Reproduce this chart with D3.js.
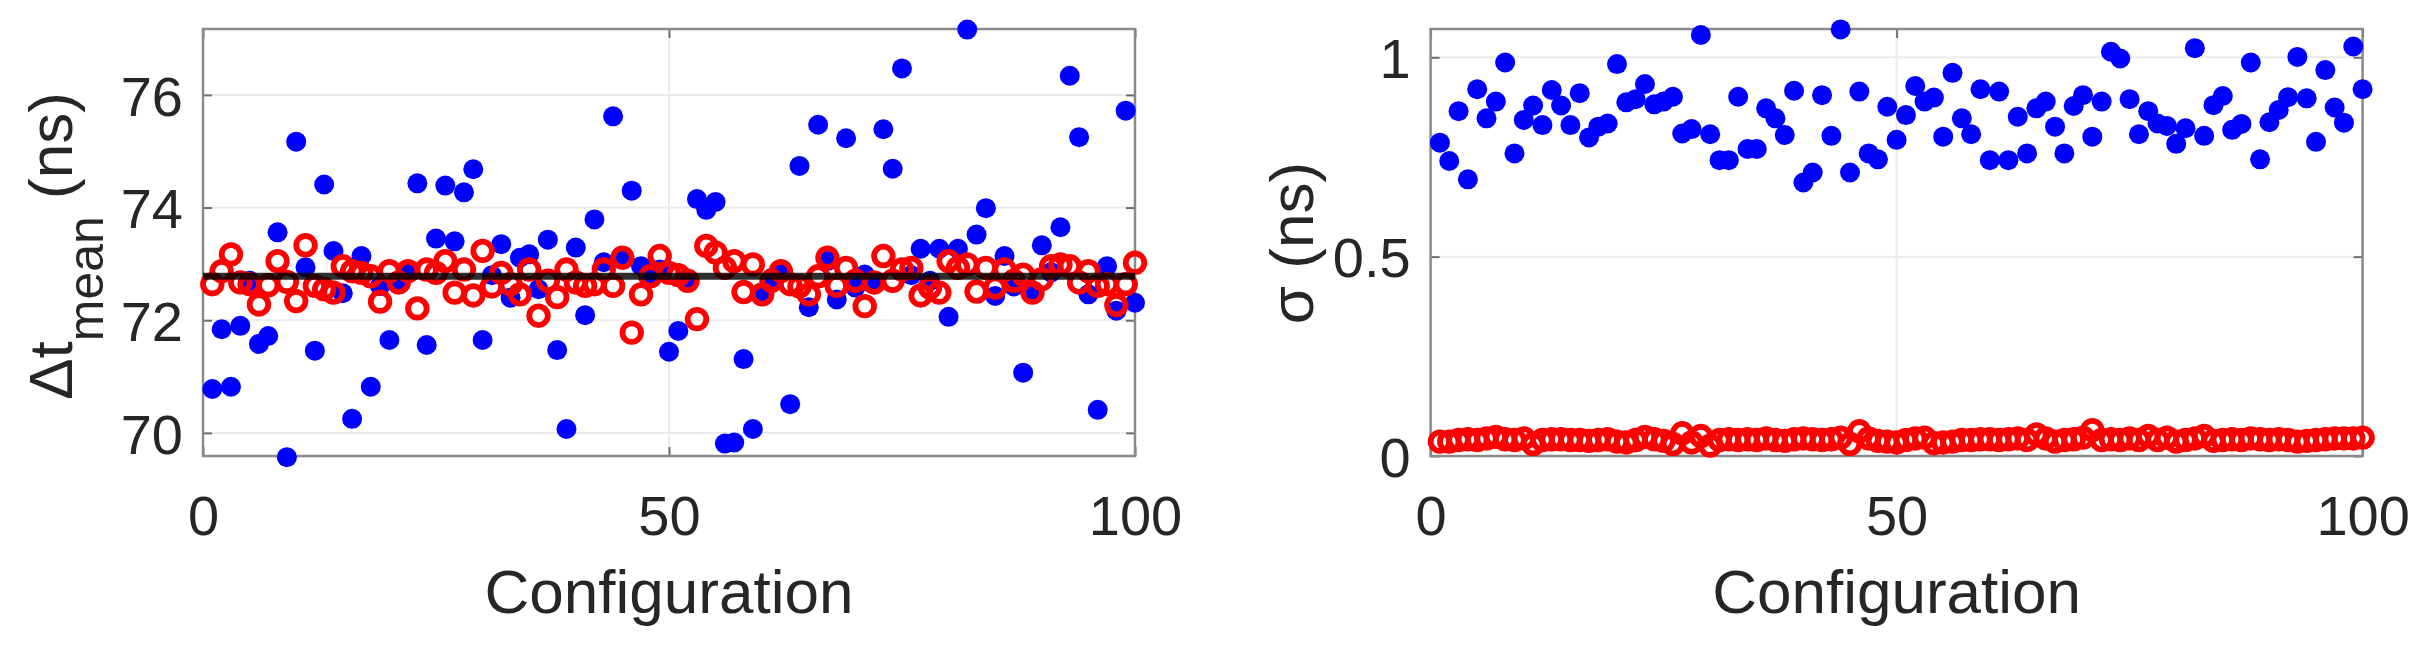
<!DOCTYPE html>
<html>
<head>
<meta charset="utf-8">
<script src="https://cdnjs.cloudflare.com/ajax/libs/d3/7.8.5/d3.min.js"></script>
<style>
  body { margin: 0; background: #fff; }
  text { font-family: "Liberation Sans", Arial, Helvetica, sans-serif; fill: #262626; }
</style>
</head>
<body>
<div id="chart"></div>
<script>
// configurations 1..100
var configs = d3.range(1, 101);

// left panel: mean time difference per configuration (ns)
var meanBlue = [70.78, 71.84, 70.82, 71.90, 72.70, 71.58, 71.72, 73.56, 69.57, 75.17,
    72.94, 71.46, 74.41, 73.23, 72.48, 70.25, 73.14, 70.82, 72.61, 71.65,
    72.67, 72.85, 74.43, 71.56, 73.45, 74.39, 73.40, 74.27, 74.68, 71.65,
    72.80, 73.35, 72.40, 73.11, 73.17, 72.55, 73.43, 71.47, 70.07, 73.29,
    72.09, 73.79, 73.03, 75.62, 73.11, 74.30, 72.96, 72.79, 72.90, 71.44,
    71.81, 72.70, 74.15, 73.96, 74.10, 69.81, 69.83, 71.31, 70.07, 72.46,
    72.75, 72.85, 70.51, 74.74, 72.23, 75.47, 73.05, 72.37, 75.23, 72.58,
    72.81, 72.64, 75.39, 74.69, 76.47, 72.80, 73.27, 72.70, 73.27, 72.06,
    73.27, 77.16, 73.52, 73.99, 72.43, 73.14, 72.60, 71.07, 72.49, 73.33,
    72.85, 73.65, 76.34, 75.25, 72.46, 70.41, 72.96, 72.17, 75.72, 72.31]
var meanRed = [72.64, 72.87, 73.17, 72.67, 72.64, 72.28, 72.62, 73.05, 72.68, 72.34,
    73.33, 72.61, 72.55, 72.49, 72.96, 72.87, 72.84, 72.78, 72.33, 72.87,
    72.67, 72.87, 72.21, 72.90, 72.84, 73.05, 72.49, 72.90, 72.44, 73.23,
    72.60, 72.84, 72.64, 72.46, 72.90, 72.08, 72.70, 72.41, 72.90, 72.67,
    72.61, 72.64, 72.90, 72.61, 73.11, 71.78, 72.46, 72.78, 73.14, 72.84,
    72.80, 72.70, 72.02, 73.32, 73.20, 72.93, 73.05, 72.50, 72.99, 72.46,
    72.70, 72.87, 72.64, 72.60, 72.46, 72.78, 73.11, 72.61, 72.93, 72.70,
    72.25, 72.67, 73.14, 72.70, 72.90, 72.93, 72.44, 72.58, 72.49, 73.05,
    72.93, 72.99, 72.51, 72.93, 72.58, 72.90, 72.70, 72.81, 72.49, 72.73,
    72.96, 72.99, 72.96, 72.67, 72.87, 72.61, 72.64, 72.27, 72.64, 73.02]
var meanLine = 72.78;

// right panel: standard deviation per configuration (ns)
var sigmaBlue = [0.786, 0.740, 0.865, 0.694, 0.920, 0.847, 0.889, 0.987, 0.759, 0.843,
    0.879, 0.830, 0.918, 0.879, 0.830, 0.910, 0.799, 0.826, 0.834, 0.983,
    0.887, 0.895, 0.933, 0.882, 0.889, 0.901, 0.809, 0.820, 1.056, 0.807,
    0.742, 0.742, 0.901, 0.770, 0.770, 0.872, 0.847, 0.805, 0.916, 0.686,
    0.711, 0.905, 0.803, 1.070, 0.711, 0.914, 0.759, 0.744, 0.876, 0.793,
    0.855, 0.928, 0.889, 0.899, 0.801, 0.961, 0.847, 0.807, 0.920, 0.742,
    0.914, 0.742, 0.851, 0.759, 0.872, 0.889, 0.826, 0.759, 0.878, 0.905,
    0.801, 0.889, 1.014, 0.997, 0.895, 0.807, 0.865, 0.834, 0.828, 0.783,
    0.822, 1.023, 0.803, 0.880, 0.903, 0.818, 0.833, 0.987, 0.744, 0.837,
    0.868, 0.900, 1.001, 0.897, 0.788, 0.968, 0.874, 0.836, 1.027, 0.920]
var sigmaRed = [0.036, 0.036, 0.040, 0.042, 0.040, 0.044, 0.048, 0.042, 0.040, 0.044,
    0.030, 0.040, 0.042, 0.042, 0.040, 0.040, 0.038, 0.040, 0.042, 0.036,
    0.034, 0.040, 0.048, 0.042, 0.038, 0.030, 0.057, 0.034, 0.050, 0.026,
    0.040, 0.042, 0.040, 0.042, 0.040, 0.044, 0.040, 0.038, 0.042, 0.044,
    0.042, 0.040, 0.042, 0.046, 0.030, 0.062, 0.044, 0.038, 0.036, 0.034,
    0.040, 0.044, 0.046, 0.032, 0.034, 0.036, 0.040, 0.040, 0.042, 0.042,
    0.040, 0.042, 0.044, 0.040, 0.054, 0.044, 0.036, 0.040, 0.042, 0.046,
    0.065, 0.040, 0.042, 0.040, 0.044, 0.040, 0.050, 0.040, 0.046, 0.036,
    0.040, 0.044, 0.050, 0.038, 0.040, 0.042, 0.040, 0.044, 0.042, 0.040,
    0.042, 0.040, 0.036, 0.038, 0.040, 0.042, 0.044, 0.044, 0.044, 0.046]

// tick values
var xTicks = [0, 50, 100];
var meanTicks = [70, 72, 74, 76];
var sigmaTicks = [0, 0.5, 1];

var svg = d3.select("#chart")
  .append("svg")
    .attr("width", 2420)
    .attr("height", 651);

// draws one panel
function drawPanel(opt) {
    var x = d3.scaleLinear().domain([0, 100]).range([opt.left, opt.right]);
    var y = d3.scaleLinear().domain(opt.yDomain).range([opt.bottom, opt.top]);
    var g = svg.append("g");

    // grid lines
    g.selectAll(".hgrid").data(opt.yTicks).enter().append("line")
        .attr("x1", opt.left).attr("x2", opt.right)
        .attr("y1", function(d) { return y(d); })
        .attr("y2", function(d) { return y(d); })
        .style("stroke", "#ebebeb").style("stroke-width", 2);
    g.selectAll(".vgrid").data(xTicks).enter().append("line")
        .attr("y1", opt.top).attr("y2", opt.bottom)
        .attr("x1", function(d) { return x(d); })
        .attr("x2", function(d) { return x(d); })
        .style("stroke", "#ebebeb").style("stroke-width", 2);

    // axes with inward ticks on all four sides
    var xb = g.append("g").attr("transform", "translate(0," + opt.bottom + ")")
        .call(d3.axisBottom(x).tickValues(xTicks).tickSize(-9).tickPadding(39));
    var yl = g.append("g").attr("transform", "translate(" + opt.left + ",0)")
        .call(d3.axisLeft(y).tickValues(opt.yTicks).tickSize(-9).tickPadding(20)
            .tickFormat(opt.fmt));
    var xt = g.append("g").attr("transform", "translate(0," + opt.top + ")")
        .call(d3.axisTop(x).tickValues(xTicks).tickSize(-9).tickFormat(""));
    var yr = g.append("g").attr("transform", "translate(" + opt.right + ",0)")
        .call(d3.axisRight(y).tickValues(opt.yTicks).tickSize(-9).tickFormat(""));
    [xb, yl, xt, yr].forEach(function(a) {
        a.select(".domain").remove();
        a.selectAll(".tick line").style("stroke", "#6e6e6e").style("stroke-width", 2);
        a.selectAll("text").style("font-size", "56px").style("fill", "#262626")
            .style("font-family", "'Liberation Sans', Arial, sans-serif");
    });
    yl.selectAll("text").attr("dy", "0.36em");

    // box
    g.append("rect")
        .attr("x", opt.left).attr("y", opt.top)
        .attr("width", opt.right - opt.left).attr("height", opt.bottom - opt.top)
        .style("fill", "none").style("stroke", "#8a8a8a").style("stroke-width", 2.5);

    // blue filled dots
    g.selectAll(".blue").data(opt.blue).enter().append("circle")
        .attr("cx", function(d, i) { return x(configs[i]); })
        .attr("cy", function(d) { return y(d); })
        .attr("r", 10)
        .style("fill", "#0000ff");

    // red open circles
    g.selectAll(".red").data(opt.red).enter().append("circle")
        .attr("cx", function(d, i) { return x(configs[i]); })
        .attr("cy", function(d) { return y(d); })
        .attr("r", 9.3)
        .style("fill", "none")
        .style("stroke", "#ff0000")
        .style("stroke-width", 5.8);

    if (opt.line != null) {
        g.append("line")
            .attr("x1", x(0)).attr("x2", x(100))
            .attr("y1", y(opt.line)).attr("y2", y(opt.line))
            .style("stroke", "#000").style("stroke-width", 7).style("opacity", 0.82);
    }

    // x label
    g.append("text")
        .attr("x", (opt.left + opt.right) / 2)
        .attr("y", 613)
        .attr("text-anchor", "middle")
        .style("font-size", "62px")
        .text("Configuration");
}

drawPanel({
    left: 203, right: 1135, top: 29, bottom: 456,
    yDomain: [69.59, 77.17], yTicks: meanTicks, fmt: d3.format("d"),
    blue: meanBlue, red: meanRed, line: meanLine
});
drawPanel({
    left: 1430.6, right: 2362.6, top: 29, bottom: 456,
    yDomain: [0, 1.071], yTicks: sigmaTicks, fmt: function(d) { return String(d); },
    blue: sigmaBlue, red: sigmaRed, line: null
});

// y labels
var yl1 = svg.append("text")
    .attr("transform", "translate(72,246) rotate(-90)")
    .attr("text-anchor", "middle")
    .style("font-size", "62px");
yl1.append("tspan").text("\u0394t");
yl1.append("tspan").attr("dy", 31).style("font-size", "50px").text("mean");
yl1.append("tspan").attr("dy", -31).text(" (ns)");

svg.append("text")
    .attr("transform", "translate(1313,243) rotate(-90)")
    .attr("text-anchor", "middle")
    .style("font-size", "62px")
    .text("\u03c3 (ns)");
</script>
</body>
</html>
